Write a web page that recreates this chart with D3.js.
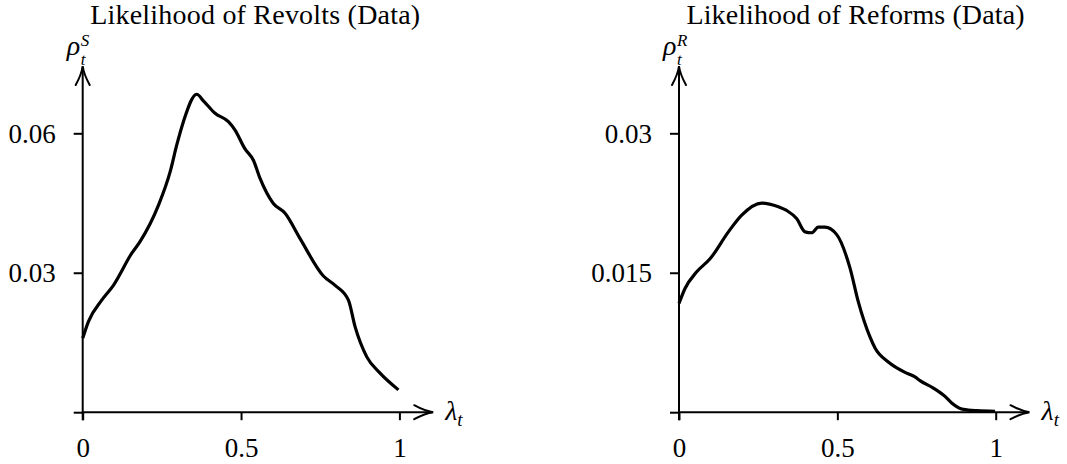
<!DOCTYPE html>
<html><head><meta charset="utf-8">
<script src="https://cdn.jsdelivr.net/npm/d3@7"></script>
<style>
body{margin:0;background:#fff}
svg{display:block}
text{font-family:"Liberation Serif","DejaVu Serif",serif;fill:#000}
</style>
</head><body>
<svg id="c" width="1067" height="464"></svg>
<script>
// ---- data ----
const revoltsLambda = [0, 0.018, 0.06, 0.097, 0.155, 0.181, 0.239, 0.276, 0.297, 0.318, 0.36, 0.381, 0.418, 0.46, 0.481, 0.512, 0.539, 0.56, 0.602, 0.639, 0.686, 0.76, 0.797, 0.839, 0.86, 0.897, 0.939, 0.997];
const revoltsRho    = [0.0159, 0.0195, 0.0241, 0.0273, 0.0342, 0.0367, 0.0445, 0.0517, 0.0575, 0.0625, 0.0684, 0.0670, 0.0643, 0.0625, 0.0607, 0.0567, 0.0542, 0.0503, 0.0449, 0.0428, 0.0374, 0.0293, 0.0273, 0.0241, 0.0184, 0.0119, 0.0084, 0.0048];
const reformsLambda = [0, 0.019, 0.056, 0.098, 0.156, 0.198, 0.261, 0.314, 0.34, 0.372, 0.398, 0.419, 0.44, 0.461, 0.498, 0.54, 0.566, 0.603, 0.619, 0.661, 0.719, 0.745, 0.761, 0.803, 0.84, 0.861, 0.898, 0.94, 0.998];
const reformsRho    = [0.0117, 0.0133, 0.0151, 0.0165, 0.0194, 0.0212, 0.0225, 0.0221, 0.0217, 0.0208, 0.0194, 0.0193, 0.0199, 0.0199, 0.0191, 0.0155, 0.0119, 0.0081, 0.0069, 0.0054, 0.0042, 0.0038, 0.0034, 0.0026, 0.0017, 0.0010, 0.0003, 0.00016, 0.0001];
const xTickValues = [0, 0.5, 1];
const xTickLabels = ["0", "0.5", "1"];
const revoltsYTicks = [0, 0.03, 0.06];
const revoltsYLabels = ["", "0.03", "0.06"];
const reformsYTicks = [0, 0.015, 0.03];
const reformsYLabels = ["", "0.015", "0.03"];
const titles = ["Likelihood of Revolts (Data)", "Likelihood of Reforms (Data)"];
const yNames = ["S", "R"];

const svg = d3.select("#c");
const Y0 = 412.2, YTOP = 133.3;

const panels = [
  {left: 82.7, lam: revoltsLambda, rho: revoltsRho, yt: revoltsYTicks, yl: revoltsYLabels, ymax: 0.06, title: titles[0], sup: yNames[0], tlen: 330},
  {left: 679, lam: reformsLambda, rho: reformsRho, yt: reformsYTicks, yl: reformsYLabels, ymax: 0.03, title: titles[1], sup: yNames[1], tlen: 338}
];

function arrowHead(g, tx, ty, rot) {
  g.append("path")
    .attr("transform", `translate(${tx},${ty}) rotate(${rot})`)
    .attr("d", "M-19,-7 Q-8,-1 0,0 Q-8,1 -19,7")
    .attr("fill", "none").attr("stroke", "#000").attr("stroke-width", 2)
    .attr("stroke-linecap", "round");
}

panels.forEach(p => {
  const x = d3.scaleLinear().domain([0, 1]).range([p.left, p.left + 316.7]);
  const y = d3.scaleLinear().domain([0, p.ymax]).range([Y0, YTOP]);
  const g = svg.append("g");

  // x axis ticks
  const xa = g.append("g").attr("transform", `translate(0,${Y0})`)
    .call(d3.axisBottom(x).tickValues(xTickValues).tickSize(8).tickFormat((d, i) => xTickLabels[i]));
  xa.select(".domain").remove();
  xa.selectAll("line").attr("stroke", "#000").attr("stroke-width", 2);
  xa.selectAll("text").attr("y", 45).attr("dy", null).attr("font-size", 27)
    .attr("font-family", "Liberation Serif").attr("fill", "#000");

  // y axis ticks
  const ya = g.append("g").attr("transform", `translate(${p.left},0)`)
    .call(d3.axisLeft(y).tickValues(p.yt).tickSize(9).tickPadding(18).tickFormat((d, i) => p.yl[i]));
  ya.select(".domain").remove();
  ya.selectAll("line").attr("stroke", "#000").attr("stroke-width", 2);
  ya.selectAll("text").attr("dy", "0.34em").attr("font-size", 27)
    .attr("font-family", "Liberation Serif").attr("fill", "#000");

  // axis lines with arrows
  const xTip = p.left + 350.5;
  g.append("line").attr("x1", p.left).attr("x2", xTip - 1).attr("y1", Y0).attr("y2", Y0)
    .attr("stroke", "#000").attr("stroke-width", 2);
  arrowHead(g, xTip, Y0, 0);
  const yTip = 66;
  g.append("line").attr("x1", p.left).attr("x2", p.left).attr("y1", Y0 + 8).attr("y2", yTip + 1)
    .attr("stroke", "#000").attr("stroke-width", 2);
  arrowHead(g, p.left, yTip, -90);

  // curve
  const data = p.lam.map((l, i) => [l, p.rho[i]]);
  g.append("path").datum(data)
    .attr("d", d3.line().x(d => x(d[0])).y(d => y(d[1])).curve(d3.curveMonotoneX))
    .attr("fill", "none").attr("stroke", "#000").attr("stroke-width", 3.2)
    .attr("stroke-linejoin", "round").attr("stroke-linecap", "butt");

  // title
  g.append("text").attr("x", p.left + 7.5).attr("y", 23.5).attr("font-size", 28)
    .attr("textLength", p.tlen).attr("lengthAdjust", "spacing").text(p.title);

  // y label rho_t^S
  g.append("text").attr("x", p.left - 16).attr("y", 55).attr("font-size", 28)
    .attr("font-style", "italic").text("ρ");
  g.append("text").attr("x", p.left - 2).attr("y", 45.5).attr("font-size", 17)
    .attr("font-style", "italic").text(p.sup);
  g.append("text").attr("x", p.left - 2).attr("y", 65).attr("font-size", 17)
    .attr("font-style", "italic").text("t");

  // x label lambda_t
  const xl = g.append("text").attr("x", xTip + 12).attr("y", 420).attr("font-style", "italic");
  xl.append("tspan").attr("font-size", 28).text("λ");
  xl.append("tspan").attr("font-size", 19).attr("dy", 6).text("t");
});
</script>
</body></html>
